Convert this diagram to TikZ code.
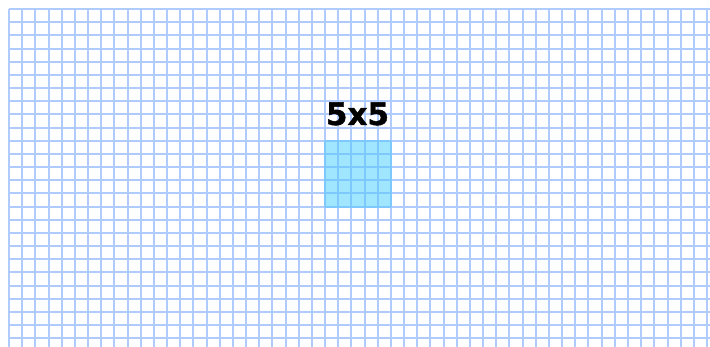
\documentclass[tikz,border=0pt]{standalone}
\usepackage{fontspec}
\setmainfont{DejaVu Sans}
\newfontfamily\heavyfont[FakeBold=1.2]{DejaVu Sans Bold}
\begin{document}
\begin{tikzpicture}[x=1pt,y=-1pt]
\definecolor{gridblue}{RGB}{176,204,255}
\definecolor{cellfill}{RGB}{160,230,255}
\definecolor{cellline}{RGB}{125,200,255}
\tikzset{gridline/.style={gridblue,line width=2pt},
         cellgrid/.style={cellline,line width=2pt},
         label/.style={font=\fontsize{31}{31}\selectfont\heavyfont,text=black,inner sep=0pt,anchor=base}}
\useasboundingbox (0,0) rectangle (710,347);
\fill[white] (0,0) rectangle (710,347);
\foreach \k in {0,...,53} \draw[gridline] ({9+13.17*\k},9) -- ({9+13.17*\k},347);
\foreach \k in {0,...,25} \draw[gridline] (9,{9+13.17*\k}) -- (710,{9+13.17*\k});
\fill[cellfill] ({9+13.17*24},{9+13.17*10}) rectangle ({9+13.17*29},{9+13.17*15});
\foreach \k in {24,...,29} \draw[cellgrid] ({9+13.17*\k},{9+13.17*10}) -- ({9+13.17*\k},{9+13.17*15});
\foreach \k in {10,...,15} \draw[cellgrid] ({9+13.17*24},{9+13.17*\k}) -- ({9+13.17*29},{9+13.17*\k});
\node[label] (title) at (357.5,125) {5x5};
\end{tikzpicture}
\end{document}
